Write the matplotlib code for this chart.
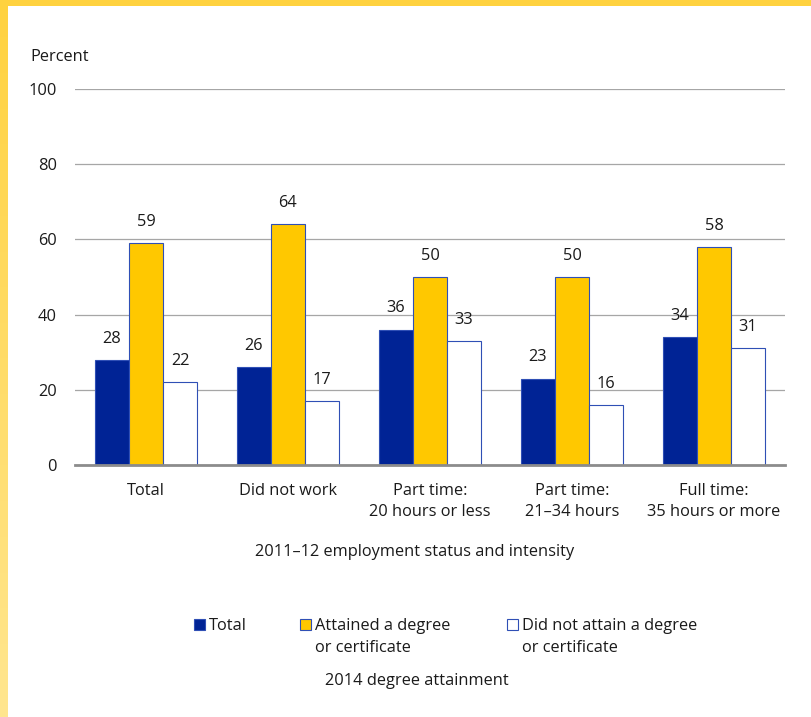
import matplotlib
matplotlib.use('Agg')
import matplotlib.pyplot as plt
import numpy as np
from matplotlib.patches import Rectangle
from matplotlib.colors import LinearSegmentedColormap

# data
categories = ['Total', 'Did not work', 'Part time:\n20 hours or less',
              'Part time:\n21–34 hours', 'Full time:\n35 hours or more']
total = [28, 26, 36, 23, 34]
attained = [59, 64, 50, 50, 58]
not_attained = [22, 17, 33, 16, 31]
series_names = ['Total', 'Attained a degree\nor certificate',
                'Did not attain a degree\nor certificate']
yticks = [0, 20, 40, 60, 80, 100]

navy = '#002395'
gold = '#FFC800'
edge = '#2F4FB5'
text_color = '#1a1a1a'
fs = 11.8

plt.rcParams['font.family'] = ['Open Sans', 'DejaVu Sans']
plt.rcParams['font.size'] = fs
plt.rcParams['text.color'] = text_color

W, H = 812, 717
fig = plt.figure(figsize=(W / 100, H / 100), dpi=100)


def fx(px):
    return px / W


def fy(py):
    return 1 - py / H


ax = fig.add_axes([fx(75), fy(465), fx(785) - fx(75), fy(89) - fy(465)])

x = np.arange(len(categories))
w = 0.24
colors = [navy, gold, 'white']
for i, (vals, col) in enumerate(zip([total, attained, not_attained], colors)):
    b = ax.bar(x + (i - 1) * w, vals, w, color=col, edgecolor=edge,
               linewidth=0.8, zorder=3)
    ax.bar_label(b, padding=9.5, fontsize=fs, color=text_color)

ax.set_xlim(-0.5, len(categories) - 0.5)
ax.set_ylim(0, 100)
ax.set_yticks(yticks)
ax.set_xticks(x)
ax.set_xticklabels(categories, linespacing=1.4)
ax.yaxis.grid(True, color='#A6A6A6', linewidth=0.9)
ax.set_axisbelow(True)
for s in ['top', 'right', 'left']:
    ax.spines[s].set_visible(False)
ax.spines['bottom'].set_color('#8C8C8C')
ax.spines['bottom'].set_linewidth(2)
ax.spines['bottom'].set_zorder(4)
ax.tick_params(axis='y', length=0, pad=13, labelcolor=text_color)
ax.tick_params(axis='x', length=0, pad=13, labelcolor=text_color)

# axis captions
fig.text(fx(30), fy(57), 'Percent', ha='left', va='center')
fig.text(fx(415), fy(552), '2011–12 employment status and intensity',
         ha='center', va='center')

# legend
legend_x = [194, 300, 507]
for left, name, col in zip(legend_x, series_names, colors):
    fig.patches.append(Rectangle((fx(left), fy(630)), 11 / W, 11 / H,
                                 transform=fig.transFigure, facecolor=col,
                                 edgecolor=edge, linewidth=0.8))
    fig.text(fx(left + 15), fy(617.5), name, ha='left', va='top',
             linespacing=1.55)
fig.text(fx(417), fy(681), '2014 degree attainment', ha='center', va='center')

# yellow frame: top band and fading left band
fig.patches.append(Rectangle((0, fy(6)), 1, 6 / H, transform=fig.transFigure,
                             facecolor='#FFD23F', edgecolor='none', zorder=5))
strip = fig.add_axes([0, 0, fx(8), 1])
cmap = LinearSegmentedColormap.from_list('frame', ['#FFD23F', '#FFE68F'])
strip.imshow(np.linspace(0, 1, 256).reshape(-1, 1), cmap=cmap, aspect='auto')
strip.set_axis_off()

fig.savefig('out.png', dpi=100)
